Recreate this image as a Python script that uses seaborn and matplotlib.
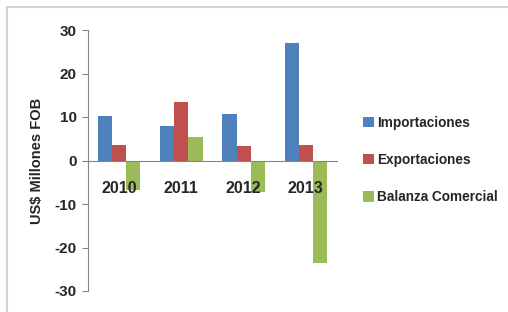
import pandas as pd
import seaborn as sns
import matplotlib.pyplot as plt
from matplotlib.patches import Rectangle

sns.set_style("white")
plt.rcParams["font.family"] = ["Liberation Sans", "DejaVu Sans"]
plt.rcParams["axes.unicode_minus"] = False

years = ["2010", "2011", "2012", "2013"]
importaciones = [10.3, 8.0, 10.7, 27.0]
exportaciones = [3.5, 13.4, 3.4, 3.5]
balanza = [-6.8, 5.4, -7.3, -23.5]
series = ["Importaciones", "Exportaciones", "Balanza Comercial"]
colors = ["#4F81BD", "#C0504D", "#9BBB59"]

data = pd.DataFrame({"year": years * 3,
                     "serie": [s for s in series for _ in years],
                     "value": importaciones + exportaciones + balanza})

fig = plt.figure(figsize=(5.08, 3.12), dpi=100)
ax = fig.add_axes([88 / 508, 21 / 312, 249 / 508, 261 / 312])

# frame around the chart area (clipped at right and bottom like the source)
fig.patches.append(Rectangle((7 / 508, -0.1), 1.2, 1.1 - 7 / 312,
                             transform=fig.transFigure, fill=False,
                             edgecolor="#d4d4d4", linewidth=1.5))

sns.barplot(x="year", y="value", hue="serie", data=data,
            palette=colors, width=0.68, saturation=1, linewidth=0, ax=ax)
for bar in ax.patches:
    bar.set_zorder(0.5)
# year labels sit on top of the bars, as in the source
ax.set_axisbelow(False)
ax.xaxis.set_zorder(5)

ax.set_ylim(-30, 30)
ax.set_yticks([-30, -20, -10, 0, 10, 20, 30])
ax.set_xlim(-0.5, 3.5)
ax.set_xlabel("")
ax.set_ylabel("US$ Millones FOB", fontsize=10.5, fontweight="bold",
              labelpad=8)

for side in ["top", "right"]:
    ax.spines[side].set_visible(False)
ax.spines["bottom"].set_position(("data", 0))
ax.spines["bottom"].set_color("#868686")
ax.spines["left"].set_color("#868686")
ax.tick_params(axis="y", left=True, length=4, color="#868686",
               labelsize=11, pad=4)
ax.tick_params(axis="x", bottom=False, labelsize=11.5, pad=11)
for lab in ax.get_xticklabels() + ax.get_yticklabels():
    lab.set_fontweight("bold")

ax.legend(loc="center left", bbox_to_anchor=(351 / 508, 152 / 312),
          bbox_transform=fig.transFigure, frameon=False,
          prop={"weight": "bold", "size": 9.8}, handlelength=0.8,
          handleheight=0.8, handletextpad=0.2, labelspacing=1.7)

fig.savefig("out.png", dpi=100)
